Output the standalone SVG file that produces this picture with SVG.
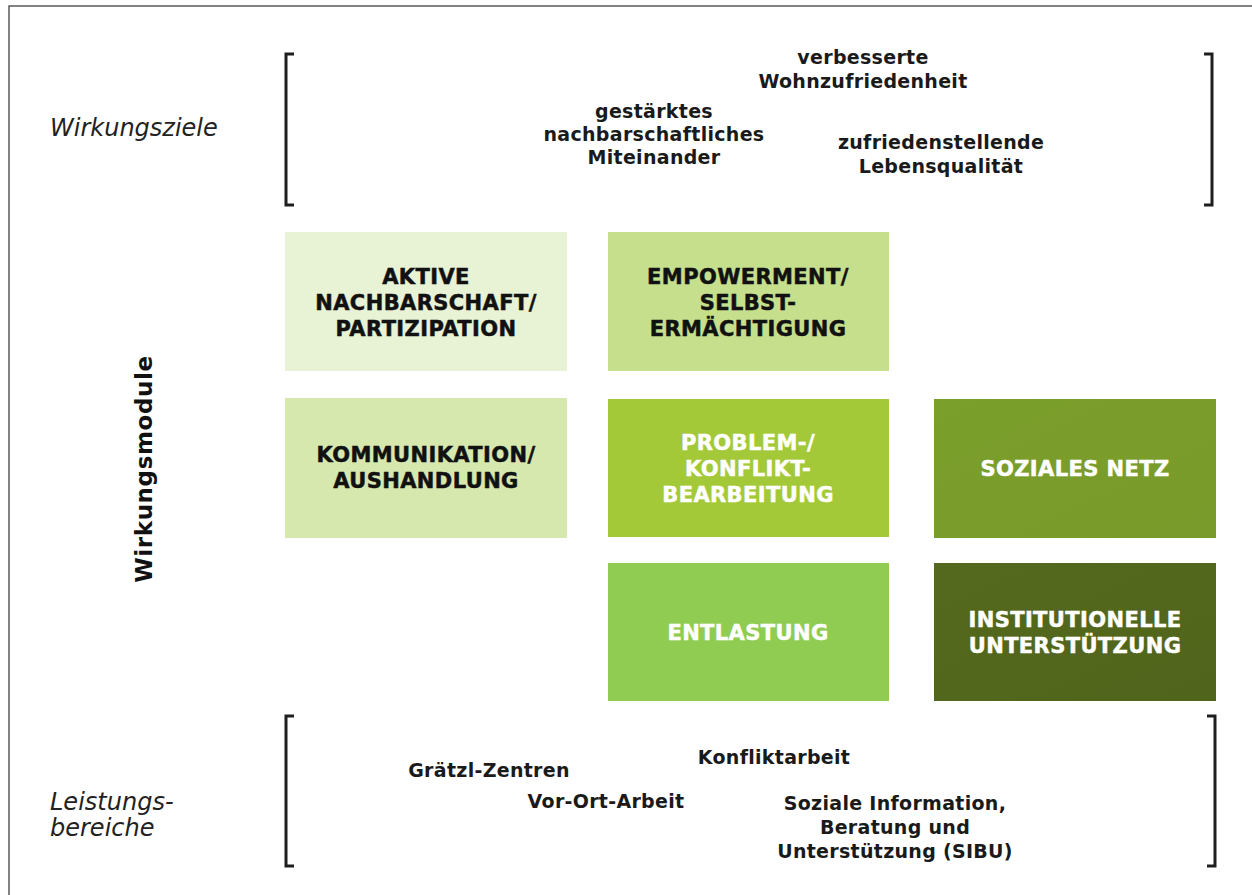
<svg xmlns="http://www.w3.org/2000/svg" width="1252" height="895" viewBox="0 0 1252 895">
  <defs>
    <style>
      .lbl { font-family: "DejaVu Sans", Verdana, sans-serif; font-style: italic; font-size: 24px; fill: #222; }
      .side { font-family: "DejaVu Sans", Verdana, sans-serif; font-weight: bold; font-size: 23px; fill: #111; letter-spacing: 0.6px; }
      .item { font-family: "DejaVu Sans", Verdana, sans-serif; font-weight: bold; font-size: 19px; fill: #1a1a1a; text-anchor: middle; letter-spacing: 0.3px; }
      .box text { font-family: "DejaVu Sans", Verdana, sans-serif; font-weight: bold; font-size: 21px; text-anchor: middle; letter-spacing: 0.4px; stroke-width: 0.5px; }
      .dark text { fill: #111; stroke: #111; }
      .light text { fill: #ffffff; stroke: #ffffff; }
      .bracket { fill: none; stroke: #1e1e1e; stroke-width: 3; stroke-linejoin: miter; }
      .frame { fill: none; stroke: #5a5a5a; stroke-width: 1.5; }
    </style>
    <linearGradient id="gSoz" x1="0" y1="0" x2="1" y2="1">
      <stop offset="0" stop-color="#7b9f2b"/>
      <stop offset="1" stop-color="#789a2a"/>
    </linearGradient>
    <linearGradient id="gInst" x1="0" y1="0" x2="1" y2="1">
      <stop offset="0" stop-color="#54691d"/>
      <stop offset="1" stop-color="#50641b"/>
    </linearGradient>
  </defs>

  <rect width="1252" height="895" fill="#ffffff"/>

  <!-- outer frame (top and left edges visible) -->
  <path class="frame" d="M9,895 L9,6 L1252,6"/>

  <!-- row labels -->
  <text class="lbl" x="50" y="136">Wirkungsziele</text>
  <text class="lbl" x="50" y="810">Leistungs-</text>
  <text class="lbl" x="50" y="836">bereiche</text>
  <text class="side" x="152" y="469" text-anchor="middle" transform="rotate(-90 152 469)">Wirkungsmodule</text>

  <!-- brackets -->
  <g id="brackets">
    <path class="bracket" d="M294,54 L286,54 L286,205 L294,205"/>
    <path class="bracket" d="M1204,54 L1212,54 L1212,205 L1204,205"/>
    <path class="bracket" d="M294,716 L286,716 L286,866 L294,866"/>
    <path class="bracket" d="M1207,716 L1215,716 L1215,866 L1207,866"/>
  </g>

  <!-- goals -->
  <g id="goals">
    <text class="item" x="863" y="64">verbesserte</text>
    <text class="item" x="863" y="88">Wohnzufriedenheit</text>
    <text class="item" x="654" y="118">gestärktes</text>
    <text class="item" x="654" y="141">nachbarschaftliches</text>
    <text class="item" x="654" y="164">Miteinander</text>
    <text class="item" x="941" y="149">zufriedenstellende</text>
    <text class="item" x="941" y="173">Lebensqualität</text>
  </g>

  <!-- modules -->
  <g id="aktive" class="box dark">
    <rect x="285" y="232" width="282" height="139" fill="#e8f2d4"/>
    <text x="426" y="284">AKTIVE</text>
    <text x="426" y="310">NACHBARSCHAFT/</text>
    <text x="426" y="336">PARTIZIPATION</text>
  </g>
  <g id="empowerment" class="box dark">
    <rect x="608" y="232" width="281" height="139" fill="#c6df8c"/>
    <text x="748" y="284">EMPOWERMENT/</text>
    <text x="748" y="310">SELBST-</text>
    <text x="748" y="336">ERMÄCHTIGUNG</text>
  </g>
  <g id="kommunikation" class="box dark">
    <rect x="285" y="398" width="282" height="140" fill="#d6e8ad"/>
    <text x="426" y="462">KOMMUNIKATION/</text>
    <text x="426" y="488">AUSHANDLUNG</text>
  </g>
  <g id="problem" class="box light">
    <rect x="608" y="399" width="281" height="138" fill="#a3c938"/>
    <text x="748" y="450">PROBLEM-/</text>
    <text x="748" y="476">KONFLIKT-</text>
    <text x="748" y="502">BEARBEITUNG</text>
  </g>
  <g id="soziales-netz" class="box light">
    <rect x="934" y="399" width="282" height="139" fill="url(#gSoz)"/>
    <text x="1075" y="476">SOZIALES NETZ</text>
  </g>
  <g id="entlastung" class="box light">
    <rect x="608" y="563" width="281" height="138" fill="#90cc52"/>
    <text x="748" y="640">ENTLASTUNG</text>
  </g>
  <g id="institutionelle" class="box light">
    <rect x="934" y="563" width="282" height="138" fill="url(#gInst)"/>
    <text x="1075" y="627">INSTITUTIONELLE</text>
    <text x="1075" y="653">UNTERSTÜTZUNG</text>
  </g>

  <!-- service areas -->
  <g id="services">
    <text class="item" x="489" y="777">Grätzl-Zentren</text>
    <text class="item" x="774" y="764">Konfliktarbeit</text>
    <text class="item" x="606" y="808">Vor-Ort-Arbeit</text>
    <text class="item" x="895" y="810">Soziale Information,</text>
    <text class="item" x="895" y="834">Beratung und</text>
    <text class="item" x="895" y="858">Unterstützung (SIBU)</text>
  </g>
</svg>
